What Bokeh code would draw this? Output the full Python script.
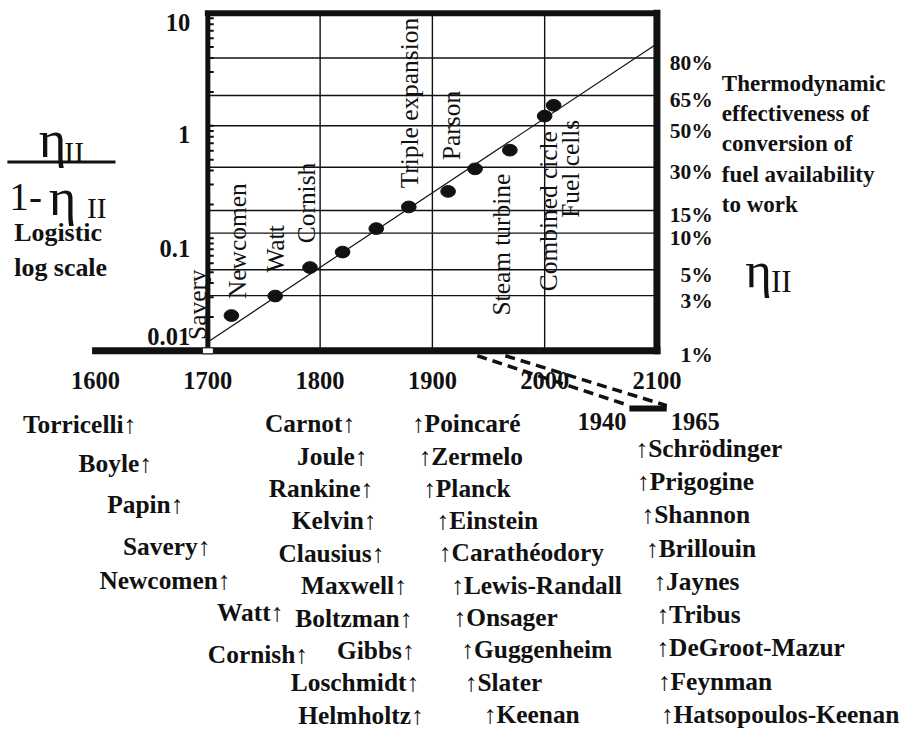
import numpy as np
from bokeh.plotting import figure
from bokeh.models import Range1d, LinearScale
from bokeh.core.properties import value
from bokeh.embed import file_html
from bokeh.resources import INLINE

# ---------------- data ----------------
dot_years = [1721, 1760, 1791, 1820, 1850, 1879, 1914, 1938, 1969, 2000, 2008]
dot_ratio = [0.0206, 0.0307, 0.055, 0.0755, 0.122, 0.19, 0.261, 0.414, 0.607, 1.22, 1.52]

trend_years = [1700, 2100]
trend_ratio = [0.012, 5.36]

engine_labels = ["Savery", "Newcomen", "Watt", "Cornish", "Triple expansion",
                 "Parson", "Steam turbine", "Combined cicle", "Fuel cells"]
engine_label_year = [1690.4, 1726.3, 1759.7, 1787.8, 1879.3, 1916.2, 1960.8, 2002.8, 2022.8]
engine_label_ratio = [0.0125, 0.0289, 0.0496, 0.0905, 0.278, 0.496, 0.0206, 0.0339, 0.152]

x_ticks = [1600, 1700, 1800, 1900, 2000, 2100]
x_tick_labels = ["1600", "1700", "1800", "1900", "2000", "2100"]
grid_years = [1800, 1900, 2000]
y_ticks = [10, 1, 0.1, 0.01]
y_tick_labels = ["10", "1", "0.1", "0.01"]
eta_pct = [80, 65, 50, 30, 15, 10, 5, 3, 1]
eta_labels = ["80%", "65%", "50%", "30%", "15%", "10%", "5%", "3%", "1%"]

colA_names = ["Torricelli", "Boyle", "Papin", "Savery", "Newcomen", "Watt", "Cornish"]
colA_years = [1631, 1645, 1673, 1697, 1715, 1762, 1784]
colB_names = ["Carnot", "Joule", "Rankine", "Kelvin", "Clausius", "Maxwell",
              "Boltzman", "Gibbs", "Loschmidt", "Helmholtz"]
colB_years = [1826, 1837, 1842, 1845, 1852, 1872, 1877, 1879, 1883, 1887]
colC_names = ["Poincaré", "Zermelo", "Planck", "Einstein", "Carathéodory",
              "Lewis-Randall", "Onsager", "Guggenheim", "Slater", "Keenan"]
colC_years = [1887, 1893, 1897, 1909, 1911, 1922, 1924, 1931, 1934, 1951]
colD_names = ["Schrödinger", "Prigogine", "Shannon", "Brillouin", "Jaynes",
              "Tribus", "DeGroot-Mazur", "Feynman", "Hatsopoulos-Keenan"]
colD_years = [1948, 1949, 1952, 1955, 1960, 1962, 1962, 1963, 1965]

zoom_window = [1940, 1965]
zoom_labels = ["1940", "1965"]

desc_lines = ["Thermodynamic", "effectiveness of", "conversion of",
              "fuel availability", "to work"]

# ---------------- layout constants ----------------
W, H = 908, 733
REF_W, REF_H = 924, 749          # layout designed on a 924x749 sheet, scaled to fit
F = min(W / REF_W, H / REF_H)
X_REF_PX, X_REF_YEAR, PX_PER_YEAR = 211.0, 1700.0, 1.1425
Y_REF_PX, PX_PER_DECADE = 128.0, 115.0
Z_REF_PX, Z_REF_YEAR, Z_PX_PER_YEAR = 640.0, 1940.0, 1.52
left_px, right_px, top_px, bottom_px = 0, REF_W, 0, REF_H


def fs(n):
    return f"{n * F:.1f}px"


SERIF = value("Liberation Serif")
BLACK = "#111111"

x_range = Range1d(X_REF_YEAR + (left_px - X_REF_PX) / PX_PER_YEAR,
                  X_REF_YEAR + (right_px - X_REF_PX) / PX_PER_YEAR)
y_range = Range1d(10 ** ((Y_REF_PX - bottom_px) / PX_PER_DECADE),
                  10 ** ((Y_REF_PX - top_px) / PX_PER_DECADE))

p = figure(width=W, height=H, x_range=x_range, y_range=y_range,
           y_axis_type="log", x_axis_location=None, y_axis_location=None,
           toolbar_location=None, output_backend="svg", min_border=0)
p.outline_line_color = None
p.background_fill_color = "white"
p.border_fill_color = "white"
p.grid.visible = False
p.extra_x_ranges = {
    "px": Range1d(left_px, right_px),
    "zoom": Range1d(Z_REF_YEAR + (left_px - Z_REF_PX) / Z_PX_PER_YEAR,
                    Z_REF_YEAR + (right_px - Z_REF_PX) / Z_PX_PER_YEAR),
}
p.extra_x_scales = {"px": LinearScale(), "zoom": LinearScale()}
p.extra_y_ranges = {"px": Range1d(bottom_px, top_px)}
p.extra_y_scales = {"px": LinearScale()}

ymin, ymax = min(y_ticks), max(y_ticks)
x_lo, x_hi = 1700, 2100
eta_ratio = [e / (100.0 - e) for e in eta_pct]

# grid lines
p.segment(x0=grid_years, x1=grid_years, y0=[ymin] * 3, y1=[ymax] * 3,
          line_color=BLACK, line_width=1.4)
grid_r = [r for r in eta_ratio if ymin < r < ymax]
p.segment(x0=[x_lo] * len(grid_r), x1=[x_hi] * len(grid_r), y0=grid_r, y1=grid_r,
          line_color=BLACK, line_width=1.4)

# left axis minor ticks (log)
minor = [k * 10.0 ** d for d in (-2, -1, 0) for k in range(1, 10)] + [10.0]
tick_len = 6 / PX_PER_YEAR
p.segment(x0=[x_lo] * len(minor), x1=[x_lo + tick_len] * len(minor), y0=minor, y1=minor,
          line_color=BLACK, line_width=2)

# engine labels (rotated)
p.text(x=engine_label_year, y=engine_label_ratio, text=engine_labels, angle=np.pi / 2,
       text_align="left", text_baseline="middle", text_font=SERIF,
       text_font_size=fs(26), text_color=BLACK)

# trend line and dots
p.line(trend_years, trend_ratio, line_color=BLACK, line_width=1.2)
p.ellipse(x=dot_years, y=dot_ratio, width=15 * F, height=12 * F, width_units="screen",
          height_units="screen", fill_color=BLACK, line_color=BLACK)

# frame
p.line([x_lo, x_hi], [ymax, ymax], line_color=BLACK, line_width=6, line_cap="square")
p.line([x_hi, x_hi], [ymin, ymax], line_color=BLACK, line_width=7, line_cap="square")
p.line([x_ticks[0], x_hi], [ymin, ymin], line_color=BLACK, line_width=7, line_cap="square")
p.line([x_lo, x_lo], [ymin, ymax], line_color=BLACK, line_width=5)
p.rect(x=[x_lo], y=[ymin], width=11, height=6, width_units="screen", height_units="screen",
       fill_color="white", line_color=BLACK, line_width=1)

# tick labels
p.text(x=x_ticks, y=[ymin] * len(x_ticks), text=x_tick_labels, y_offset=30 * F,
       text_align="center", text_baseline="middle", text_font=SERIF,
       text_font_style="bold", text_font_size=fs(25), text_color=BLACK)
p.text(x=[x_lo] * 4, y=y_ticks, text=y_tick_labels, x_offset=-18 * F,
       y_offset=[9 * F, 9 * F, 10 * F, -15 * F], text_align="right", text_baseline="middle",
       text_font=SERIF, text_font_style="bold", text_font_size=fs(25), text_color=BLACK)
p.text(x=[x_hi] * len(eta_ratio), y=eta_ratio, text=eta_labels, x_offset=57 * F,
       y_offset=5 * F, text_align="right", text_baseline="middle", text_font=SERIF,
       text_font_style="bold", text_font_size=fs(22), text_color=BLACK)

# description (right)
PX = dict(x_range_name="px", y_range_name="px")
desc_y = [85 + 30.8 * i for i in range(len(desc_lines))]
p.text(x=[734] * len(desc_lines), y=desc_y, text=desc_lines, text_align="left",
       text_baseline="middle", text_font=SERIF, text_font_style="bold",
       text_font_size=fs(23.5), text_color=BLACK, **PX)
p.text(x=[758], y=[275], text=["η"], text_align="left", text_baseline="alphabetic",
       text_font=SERIF, text_font_size=fs(52), text_color=BLACK, **PX)
p.text(x=[784], y=[287], text=["II"], text_align="left", text_baseline="alphabetic",
       text_font=SERIF, text_font_size=fs(32), text_color=BLACK, **PX)

# left fraction label
p.text(x=[39, 49], y=[142, 201], text=["η", "η"], text_align="left",
       text_baseline="alphabetic", text_font=SERIF, text_font_size=fs(54),
       text_color=BLACK, **PX)
p.text(x=[65, 88], y=[155, 212], text=["II", "II"], text_align="left",
       text_baseline="alphabetic", text_font=SERIF, text_font_size=fs(30),
       text_color=BLACK, **PX)
p.text(x=[9], y=[201], text=["1-"], text_align="left", text_baseline="alphabetic",
       text_font=SERIF, text_font_size=fs(40), text_color=BLACK, **PX)
p.segment(x0=[7], x1=[117], y0=[165], y1=[165], line_color=BLACK, line_width=3, **PX)
p.text(x=[14, 14], y=[237, 273], text=["Logistic", "log scale"], text_align="left",
       text_baseline="middle", text_font=SERIF, text_font_style="bold",
       text_font_size=fs(26.5), text_color=BLACK, **PX)

# names
NAME_STYLE = dict(text_baseline="middle", text_font=SERIF, text_font_style="bold",
                  text_font_size=fs(26), text_color=BLACK, y_range_name="px")
rowsA = [433, 473, 515, 557, 592, 625, 668]
rowsB = [432 + 33.1 * i for i in range(len(colB_names))]
rowsC = [432 + 33.0 * i for i in range(len(colC_names))]
rowsD = [457 + 34.0 * i for i in range(len(colD_names))]
p.text(x=colA_years, y=rowsA, text=[n + "↑" for n in colA_names], x_offset=6 * F,
       text_align="right", **NAME_STYLE)
p.text(x=colB_years, y=rowsB, text=[n + "↑" for n in colB_names], x_offset=6 * F,
       text_align="right", **NAME_STYLE)
p.text(x=colC_years, y=rowsC, text=["↑" + n for n in colC_names], x_offset=-6 * F,
       text_align="left", **NAME_STYLE)
p.text(x=colD_years, y=rowsD, text=["↑" + n for n in colD_names], x_offset=-6 * F,
       text_align="left", x_range_name="zoom", **NAME_STYLE)

# zoom window: bar, labels and dashed connectors
ZP = dict(x_range_name="zoom", y_range_name="px")
p.line(zoom_window, [417, 417], line_color=BLACK, line_width=6, **ZP)
p.text(x=[zoom_window[0]], y=[430], text=[zoom_labels[0]], x_offset=-3 * F,
       text_align="right", text_baseline="middle", text_font=SERIF,
       text_font_style="bold", text_font_size=fs(25), text_color=BLACK, **ZP)
p.text(x=[zoom_window[1]], y=[430], text=[zoom_labels[1]], x_offset=4 * F,
       text_align="left", text_baseline="middle", text_font=SERIF,
       text_font_style="bold", text_font_size=fs(25), text_color=BLACK, **ZP)


def main_to_zoom(year):
    px = X_REF_PX + (year - X_REF_YEAR) * PX_PER_YEAR
    return Z_REF_YEAR + (px - Z_REF_PX) / Z_PX_PER_YEAR


for yr in zoom_window:
    p.line([main_to_zoom(yr), yr], [363, 414], line_color=BLACK, line_width=3.5,
           line_dash="10 6", **ZP)

open("out.html", "w").write(file_html(p, INLINE))
